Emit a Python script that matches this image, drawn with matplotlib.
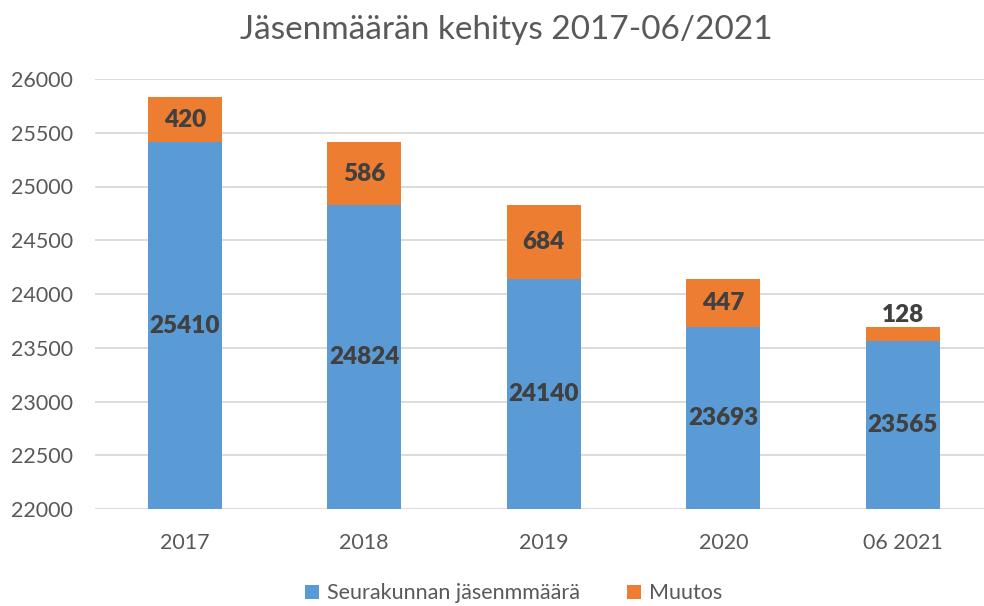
import matplotlib
import numpy as np
import matplotlib.pyplot as plt

matplotlib.use('Agg')

plt.rcParams['font.family'] = ['Lato', 'DejaVu Sans']

years = ["2017", "2018", "2019", "2020", "06 2021"]
members = [25410, 24824, 24140, 23693, 23565]
change = [420, 586, 684, 447, 128]

blue = '#5B9BD5'
orange = '#ED7D31'
grey = '#595959'
dark = '#404040'

fig = plt.figure(figsize=(9.84, 6.06), dpi=100)
ax = fig.add_axes([95 / 984, 97 / 606, 897.5 / 984, 430 / 606])

x = np.arange(len(years))
ymin = 22000
b1 = ax.bar(x, np.array(members) - ymin, bottom=ymin, width=0.41, color=blue,
            label='Seurakunnan jäsenmmäärä', zorder=3)
b2 = ax.bar(x, change, bottom=members, width=0.41, color=orange,
            label='Muutos', zorder=3)

# labels
for i in range(len(years)):
    ax.text(x[i], (ymin + members[i]) / 2, str(members[i]), ha='center', va='center',
            fontsize=17.5, fontweight='heavy', color=dark, zorder=4)
    if change[i] > 300:
        ax.text(x[i], members[i] + change[i] / 2, str(change[i]), ha='center', va='center',
                fontsize=17.5, fontweight='heavy', color=dark, zorder=4)
    else:
        ax.annotate(str(change[i]), (x[i], members[i] + change[i]), xytext=(0, 1),
                    textcoords='offset points', ha='center', va='bottom',
                    fontsize=17.5, fontweight='heavy', color=dark, zorder=4)

ax.set_ylim(22000, 26000)
ax.set_yticks(np.arange(22000, 26001, 500))
ax.set_xlim(-0.5, len(years) - 0.5)
ax.set_xticks(x)
ax.set_xticklabels(years)
ax.tick_params(axis='both', length=0, labelsize=15.5, colors=grey)
ax.tick_params(axis='x', pad=17)
ax.tick_params(axis='y', pad=16)
ax.grid(axis='y', color='#D9D9D9', linewidth=1.3, zorder=0)
for s in ax.spines.values():
    s.set_visible(False)

fig.suptitle('Jäsenmäärän kehitys 2017-06/2021', x=0.515, y=0.975, fontsize=24, color=grey)
fig.legend(loc='center', bbox_to_anchor=(0.522, 0.021), ncol=2, frameon=False,
           fontsize=15.5, labelcolor=grey, handlelength=0.65, handleheight=0.65,
           handletextpad=0.35, columnspacing=2.2)

plt.savefig('out.png', dpi=100)
